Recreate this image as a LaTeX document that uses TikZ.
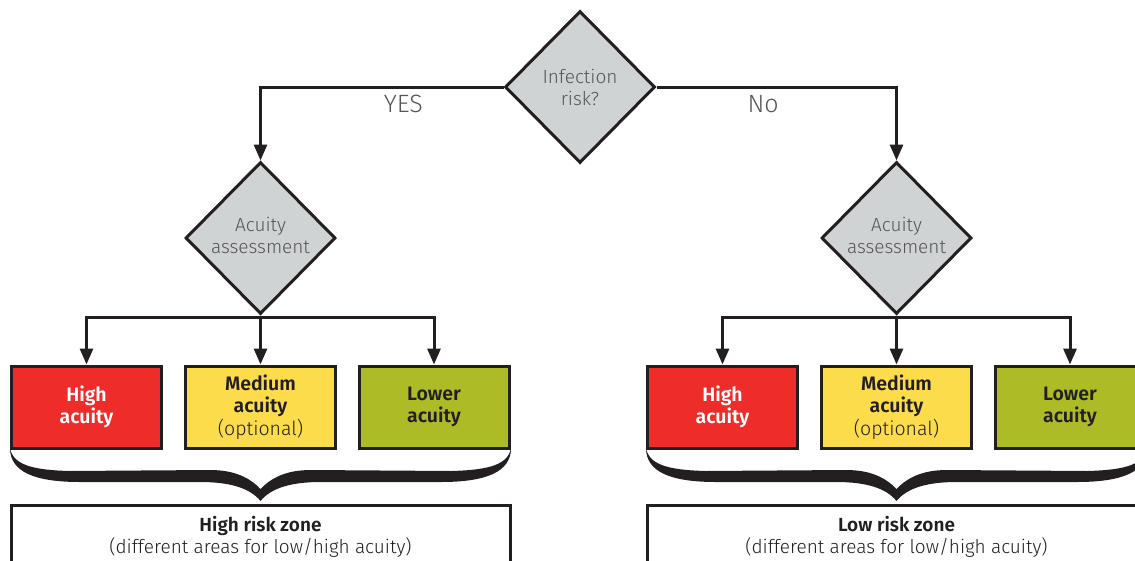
\documentclass[tikz,border=0pt]{standalone}
\usepackage{fontspec}
\setmainfont{Fira Sans}[UprightFont=* Light, BoldFont=* SemiBold]
\usetikzlibrary{shapes.geometric, arrows.meta, positioning}
\definecolor{lineColor}{RGB}{35, 31, 32}
\definecolor{askColor}{RGB}{208, 211, 212}
\definecolor{askText}{RGB}{85, 85, 85}
\definecolor{highColor}{RGB}{238, 45, 42}
\definecolor{medColor}{RGB}{253, 220, 75}
\definecolor{lowColor}{RGB}{173, 187, 38}
\newcommand{\raisedlines}[1]{\raisebox{5pt}{\begin{tabular}{@{}c@{}}#1\end{tabular}}}

\begin{document}
\begin{tikzpicture}[
  x=1pt, y=-1pt,
  line width=3pt,
  every node/.style={font=\fontsize{19}{22}\selectfont, align=center},
  ask/.style={diamond, draw=lineColor, fill=askColor, text=askText,
    inner sep=0pt, minimum width=150pt, minimum height=152pt},
  box/.style={rectangle, draw=lineColor, minimum width=150pt, minimum height=82pt,
    inner sep=0pt, font=\fontsize{19.5}{22.5}\selectfont\bfseries, text=lineColor},
  zone/.style={rectangle, draw=lineColor, fill=white, minimum width=499pt,
    inner ysep=11pt, text=lineColor, anchor=north},
  answer/.style={font=\fontsize{25}{28}\selectfont, text=askText, inner sep=0pt},
  flow/.style={draw=lineColor, -{Triangle[length=16pt, width=13pt]}},
  zonebrace/.pic={
    \fill[lineColor] (0,0) .. controls (0,24) and (25,34) .. (70,34) -- (190,34)
      .. controls (220,34) and (240,40) .. (250.5,53)
      .. controls (261,40) and (281,34) .. (311,34) -- (431,34)
      .. controls (476,34) and (501,24) .. (501,0)
      .. controls (498,16) and (481,22) .. (441,23) -- (301,22)
      .. controls (276,22) and (261,30) .. (250.5,41)
      .. controls (240,30) and (225,22) .. (200,22) -- (60,23)
      .. controls (20,22) and (3,16) .. (0,0) -- cycle;
  }
]
\useasboundingbox (0,0) rectangle (1135,560);
\clip (0,0) rectangle (1135,560);

\node[ask] (inf) at (580,87) {Infection\\risk?};
\node[ask] (accL) at (260.5,238) {\raisedlines{Acuity\\assessment}};
\node[ask] (accR) at (896.5,238) {\raisedlines{Acuity\\assessment}};

\node[box, fill=medColor] (medL) at (260.5,407) {Medium\\acuity\\{\mdseries(optional)}};
\node[box, fill=highColor, text=white, left=21pt of medL] (hiL) {High\\acuity};
\node[box, fill=lowColor, right=20.5pt of medL] (loL) {Lower\\acuity};
\node[box, fill=medColor] (medR) at (896.5,407) {Medium\\acuity\\{\mdseries(optional)}};
\node[box, fill=highColor, text=white, left=21pt of medR] (hiR) {High\\acuity};
\node[box, fill=lowColor, right=20.5pt of medR] (loR) {Lower\\acuity};

\coordinate (forkL) at (260.5,317);
\coordinate (forkR) at (896.5,317);

\draw[flow] (inf.west) -| node[answer, pos=0.206, below=7pt] {YES} (accL.north);
\draw[flow] (inf.east) -| node[answer, pos=0.222, below=7pt] {No} (accR.north);

\draw[flow] (accL.south) -- (medL.north);
\draw[flow] (forkL) -| (hiL.north);
\draw[flow] (forkL) -| (loL.north);
\draw[flow] (accR.south) -- (medR.north);
\draw[flow] (forkR) -| (hiR.north);
\draw[flow] (forkR) -| (loR.north);

\pic at (10,448) {zonebrace};
\pic at (646,448) {zonebrace};

\node[zone] (zoneL) at (260.5,504) {\textbf{High risk zone}\\(different areas for low/high acuity)};
\node[zone] (zoneR) at (896.5,504) {\textbf{Low risk zone}\\(different areas for low/high acuity)};
\end{tikzpicture}
\end{document}
